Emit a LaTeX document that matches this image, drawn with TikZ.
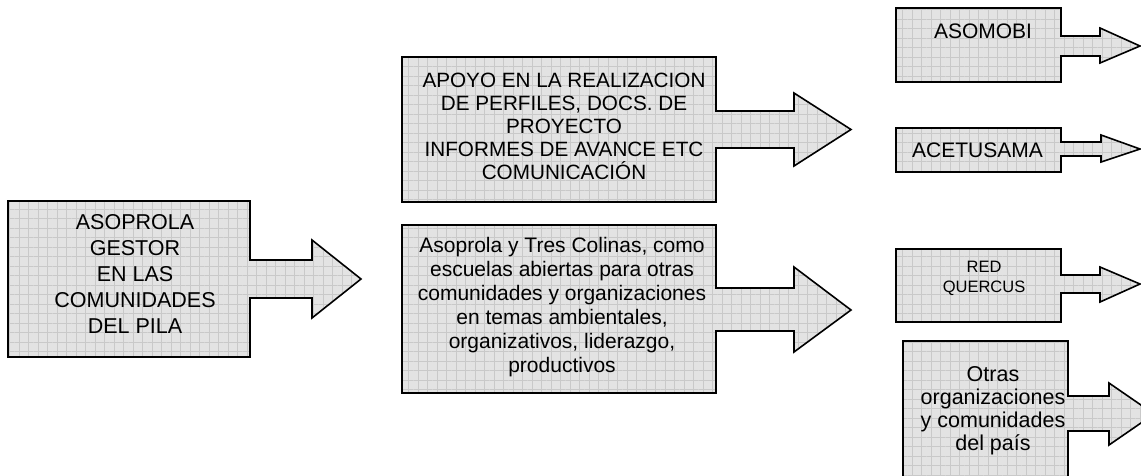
\documentclass[tikz,border=0pt]{standalone}
\usepackage{fontspec}
\setmainfont{Liberation Sans}
\usetikzlibrary{patterns.meta}

\begin{document}
\begin{tikzpicture}[x=1pt, y=-1pt,
    block/.style={draw, line width=1.6pt,
      preaction={fill=gray!22},
      preaction={pattern={Lines[angle=0, distance=9.5pt, line width=0.35pt]}, pattern color=gray!42},
      pattern={Lines[angle=90, distance=9.5pt, line width=0.35pt]}, pattern color=gray!42},
    blocktext/.style={align=center, inner sep=0pt}]
      \path[use as bounding box, clip] (0,0) rectangle (1141,475);

      % left block
      \draw[block] (8,201) -- (250,201) -- (250,260) -- (312,260) -- (312,240) -- (361,279)
        -- (312,318) -- (312,298) -- (250,298) -- (250,357) -- (8,357) -- cycle;
      \node[blocktext, font=\fontsize{21.5}{26.2}\selectfont] (asoprola) at (135,274)
        {ASOPROLA\\GESTOR\\EN LAS\\COMUNIDADES\\DEL PILA};

      % middle blocks
      \draw[block] (402,57) -- (716,57) -- (716,111) -- (794,111) -- (794,93) -- (851,129.5)
        -- (794,166) -- (794,148) -- (716,148) -- (716,202) -- (402,202) -- cycle;
      \node[blocktext, font=\fontsize{20.7}{23.1}\selectfont] (apoyo) at (564,126.5)
        {APOYO EN LA REALIZACION\\DE PERFILES, DOCS. DE\\PROYECTO\\INFORMES DE AVANCE ETC\\COMUNICACIÓN};

      \draw[block] (402,225) -- (716,225) -- (716,288) -- (794,288) -- (794,267) -- (851,310)
        -- (794,352) -- (794,331) -- (716,331) -- (716,393) -- (402,393) -- cycle;
      \node[blocktext, font=\fontsize{21}{24}\selectfont] (escuelas) at (562,307.5)
        {Asoprola y Tres Colinas, como\\escuelas abiertas para otras\\comunidades y organizaciones\\en temas ambientales,\\organizativos, liderazgo,\\productivos};

      % right blocks
      \draw[block] (896,8) -- (1061,8) -- (1061,36) -- (1100,36) -- (1100,28) -- (1140,46)
        -- (1100,63) -- (1100,56) -- (1061,56) -- (1061,82) -- (896,82) -- cycle;
      \node[blocktext, font=\fontsize{21}{24}\selectfont] (asomobi) at (983,31) {ASOMOBI};

      \draw[block] (896,128) -- (1061,128) -- (1061,142) -- (1101,142) -- (1101,135) -- (1140,149)
        -- (1101,162) -- (1101,156) -- (1061,156) -- (1061,172) -- (896,172) -- cycle;
      \node[blocktext, font=\fontsize{21}{24}\selectfont] (acetusama) at (977.5,150) {ACETUSAMA};

      \draw[block] (896,249) -- (1061,249) -- (1061,275) -- (1100,275) -- (1100,267) -- (1140,284)
        -- (1100,302) -- (1100,293) -- (1061,293) -- (1061,322) -- (896,322) -- cycle;
      \node[blocktext, font=\fontsize{16.5}{20}\selectfont] (quercus) at (984,278) {RED\\QUERCUS};

      \draw[block] (903,341) -- (1068,341) -- (1068,396) -- (1109,396) -- (1109,383) -- (1154,414)
        -- (1109,445) -- (1109,431) -- (1068,431) -- (1068,485) -- (903,485) -- cycle;
      \node[blocktext, font=\fontsize{21.5}{23}\selectfont] (otras) at (993,410.5)
        {Otras\\organizaciones\\y comunidades\\del país};
    \end{tikzpicture}
\end{document}
